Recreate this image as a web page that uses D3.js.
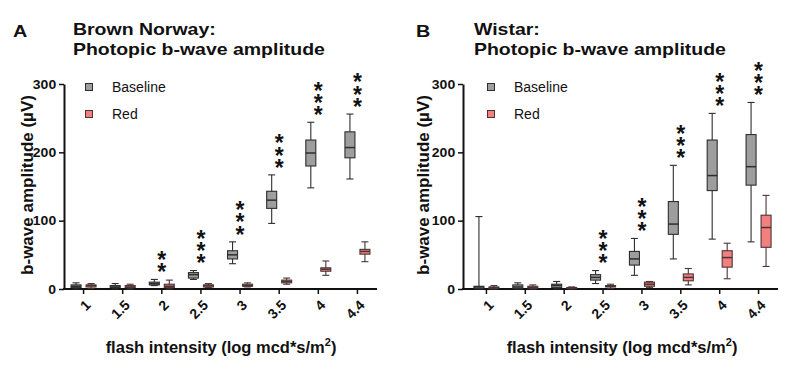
<!DOCTYPE html>
<html><head><meta charset="utf-8">
<script src="https://cdn.jsdelivr.net/npm/d3@7"></script>
<style>body{margin:0;background:#fff} text{font-family:"Liberation Sans",Arial,Helvetica,sans-serif}</style>
</head><body><svg id="c" width="792" height="370"></svg>
<script>
// ---- data ----
const categories = ["1","1.5","2","2.5","3","3.5","4","4.4"];
const yTicks = [0,100,200,300];
const seriesNames = ["Baseline","Red"];
// each entry: [min, q1, median, q3, max]
const baselineA = [[0,2,4,6,9],[0,2,3,5,8],[5,6,8,10,14],[14,16,21,24,27],[37,44,50,56,69],[96,118,130,143,167],[148,180,199,218,244],[161,192,207,230,256]];
const redA = [[1,3,5,6,8],[0,2,3,5,7],[0,2,4,7,13],[2,3,5,6,8],[3,4,5,7,9],[7,9,11,13,16],[20,26,29,31,41],[40,51,55,58,69]];
const starsA = ["","","**","***","***","***","***","***"];
const baselineB = [[0,1,3,4,106],[0,1,3,6,9],[0,2,5,7,11],[8,13,17,21,27],[20,35,44,55,74],[44,80,95,128,181],[73,144,166,218,257],[69,152,179,226,273]];
const redB = [[0,1,2,3,5],[0,1,2,4,6],[0,1,2,2,3],[1,3,4,5,7],[2,4,7,10,11],[6,12,17,22,30],[15,32,46,56,67],[33,61,90,108,137]];
const starsB = ["","","","***","***","***","***","***"];

// ---- layout ----
const svg = d3.select("#c");
svg.append("rect").attr("width",792).attr("height",370).attr("fill","#fff");
const colors = {Baseline:"#9e9e9e", Red:"#f47f7f"};
const strokes = {Baseline:"#2e2e2e", Red:"#4a3535"};
const y = d3.scaleLinear().domain([0,300]).range([289,84]);

const panels = [
  {letter:"A", t1:"Brown Norway:", t2:"Photopic b-wave amplitude", base:baselineA, red:redA, stars:starsA,
   xr:[64,377], axisX:64, letterX:13, titleX:73, ylabX:27, legX:89, xlabX:221},
  {letter:"B", t1:"Wistar:", t2:"Photopic b-wave amplitude", base:baselineB, red:redB, stars:starsB,
   xr:[467,778], axisX:463, letterX:416, titleX:474, ylabX:423, legX:491, xlabX:622}
];

function stext(g, x, y0, str, size, weight, sx, anchor){
  return g.append("g").attr("transform",`translate(${x},${y0}) scale(${sx},1)`)
    .append("text").attr("font-size",size).attr("font-weight",weight)
    .attr("text-anchor",anchor||"start").attr("fill","#111").text(str);
}

const STAR_FS = 23, STAR_STEP = 12.2, STAR_ADV = 0.389*STAR_FS;

panels.forEach(p=>{
  const g = svg.append("g");
  const x = d3.scaleBand().domain(categories).range(p.xr);
  const bw = x.bandwidth();
  // titles
  stext(g, p.letterX, 37, p.letter, 16.5, "bold", 1.2);
  stext(g, p.titleX, 35, p.t1, 16.5, "bold", 1.18);
  stext(g, p.titleX, 55, p.t2, 16.5, "bold", 1.18);

  // y axis
  const ya = g.append("g").attr("transform",`translate(${p.axisX},0)`)
    .call(d3.axisLeft(y).tickValues(yTicks).tickSize(5).tickSizeOuter(0).tickPadding(2));
  ya.select(".domain").attr("stroke","#111").attr("stroke-width",2);
  ya.selectAll(".tick line").attr("stroke","#111").attr("stroke-width",1.5);
  ya.selectAll(".tick text").attr("font-size",12.5).attr("font-weight","bold").attr("fill","#111")
    .attr("font-family","Liberation Sans, Arial, sans-serif")
    .attr("transform","scale(1.12,1)");

  // x axis
  const xa = g.append("g").attr("transform",`translate(0,${y(0)})`)
    .call(d3.axisBottom(x).tickSize(5).tickSizeOuter(0));
  xa.select(".domain").remove();
  g.append("line").attr("x1",p.axisX-1).attr("x2",p.xr[1]).attr("y1",y(0)).attr("y2",y(0))
    .attr("stroke","#111").attr("stroke-width",2);
  xa.selectAll(".tick line").attr("stroke","#111").attr("stroke-width",1.5);
  xa.selectAll(".tick text").attr("font-size",14).attr("font-weight","bold").attr("fill","#111")
    .attr("font-family","Liberation Sans, Arial, sans-serif")
    .attr("text-anchor","end").attr("y",0).attr("dy",0)
    .attr("transform","translate(8,17) rotate(-45)");

  // axis labels
  g.append("text").attr("transform",`translate(${p.ylabX},185) rotate(-90)`)
    .attr("text-anchor","middle").attr("dominant-baseline","central")
    .attr("font-size",17).attr("font-weight","bold").attr("fill","#111")
    .text("b-wave amplitude (µV)");
  const xl = g.append("text").attr("x",p.xlabX).attr("y",353).attr("text-anchor","middle")
    .attr("font-size",16.5).attr("font-weight","bold").attr("fill","#111");
  xl.append("tspan").text("flash intensity (log mcd*s/m");
  xl.append("tspan").attr("font-size",11).attr("dy",-7).text("2");
  xl.append("tspan").attr("dy",7).text(")");

  // boxes
  const series = [{name:"Baseline", data:p.base, off:-7.5},{name:"Red", data:p.red, off:7.5}];
  series.forEach(s=>{
    s.data.forEach((d,i)=>{
      const cx = x(categories[i]) + bw/2 + s.off;
      const [mn,q1,md,q3,mx] = d;
      const bg = g.append("g").attr("stroke",strokes[s.name]).attr("stroke-width",1.1);
      bg.append("line").attr("x1",cx).attr("x2",cx).attr("y1",y(mn)).attr("y2",y(mx));
      [mn,mx].forEach(v=>bg.append("line").attr("x1",cx-3.5).attr("x2",cx+3.5).attr("y1",y(v)).attr("y2",y(v)));
      bg.append("rect").attr("x",cx-5).attr("width",10).attr("y",y(q3)).attr("height",Math.max(0.5,y(q1)-y(q3)))
        .attr("fill",colors[s.name]);
      bg.append("line").attr("x1",cx-5).attr("x2",cx+5).attr("y1",y(md)).attr("y2",y(md)).attr("stroke-width",1.5);
    });
  });

  // significance stars: one vertical text per stack (glyphs kept upright)
  p.stars.forEach((st,i)=>{
    if(!st) return;
    const cx = x(categories[i]) + bw/2;
    const top = Math.max(p.base[i][4], p.red[i][4]);
    const yb = y(top) - 12.5;            // centre of lowest star
    g.append("text")
      .attr("transform",`translate(${cx-STAR_ADV/2},${yb+0.58*STAR_FS}) rotate(-90)`)
      .attr("rotate","90")
      .attr("letter-spacing",STAR_STEP-STAR_ADV)
      .attr("font-size",STAR_FS).attr("font-weight","bold").attr("fill","#111")
      .text(st);
  });

  // legend
  seriesNames.forEach((n,k)=>{
    const ly = 87 + k*27;
    g.append("rect").attr("x",p.legX-3.5).attr("y",ly-3.5).attr("width",7).attr("height",7)
      .attr("fill",colors[n]).attr("stroke",strokes[n]).attr("stroke-width",1);
    g.append("text").attr("x",p.legX+23).attr("y",ly+5).attr("font-size",14).attr("fill","#111").text(n);
  });
});
</script></body></html>
